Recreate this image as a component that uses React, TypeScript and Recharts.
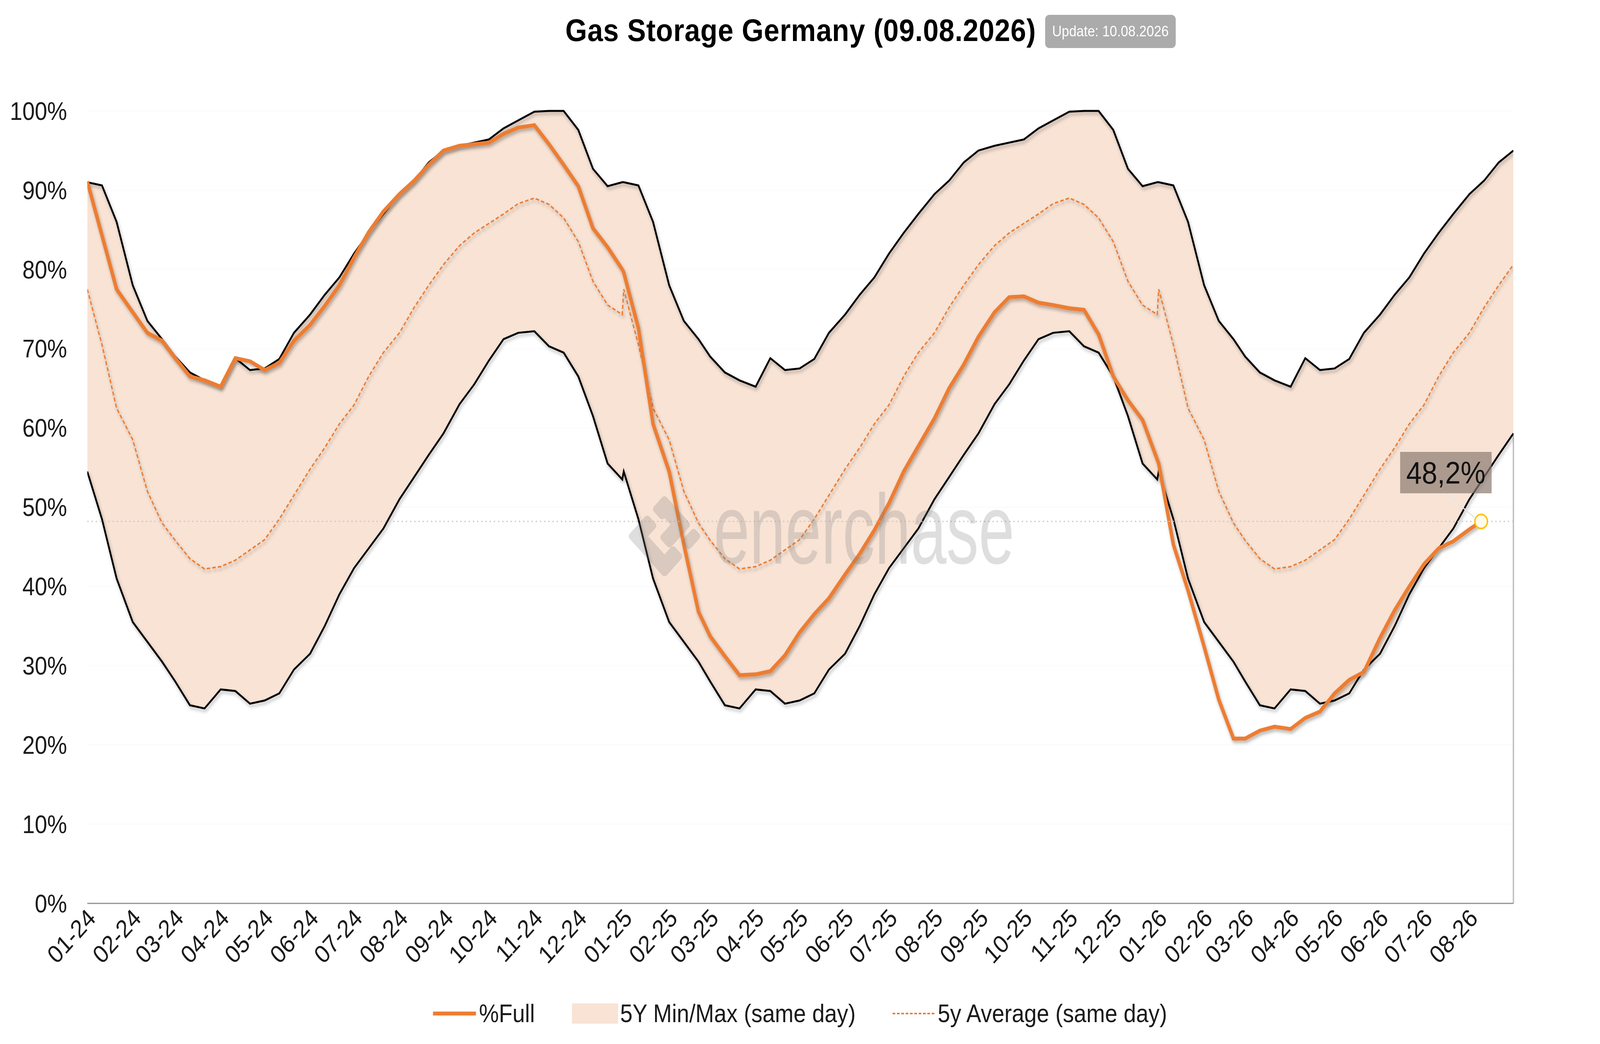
import React from "react";
import {
  ComposedChart,
  Area,
  Line,
  XAxis,
  YAxis,
  CartesianGrid,
  ReferenceLine,
  Legend,
} from "recharts";

const FONT = "'Liberation Sans', Arial, Helvetica, sans-serif";
const ORANGE = "#ED7D31";
const BAND_FILL = "#F8E3D5";
const W = 4582;
const H = 2673;

const chartTitle = "Gas Storage Germany (09.08.2026)";
const updateText = "Update: 10.08.2026";
const watermark = "enerchase";

// sampling days within each year (5y band repeats per calendar day)
const sampleDays = [
  "01-01", "01-11", "01-21", "02-01", "02-11", "02-21", "03-01", "03-11", "03-21",
  "04-01", "04-11", "04-21", "05-01", "05-11", "05-21", "06-01", "06-11", "06-21",
  "07-01", "07-11", "07-21", "08-01", "08-11", "08-21", "08-31", "09-11", "09-21",
  "10-01", "10-11", "10-21", "11-01", "11-11", "11-21", "12-01", "12-11", "12-21", "12-31",
];

const bandMax = [
  91, 90.6, 86, 78, 73.5, 71.2, 69, 67, 66, 65.2, 68.8, 67.3, 67.5, 68.7, 72, 74.3, 76.8, 79,
  82, 84.6, 87, 89.5, 91.2, 93.5, 95, 95.6, 96, 96.4, 97.8, 98.8, 99.9, 100, 100, 97.6, 92.7, 90.5, 91,
];
const bandMin = [
  54.5, 48.5, 41, 35.5, 33, 30.5, 28, 25, 24.6, 27, 26.8, 25.2, 25.6, 26.5, 29.5, 31.5, 35, 39,
  42.3, 44.8, 47.3, 51, 53.8, 56.6, 59.3, 63, 65.5, 68.5, 71.2, 72, 72.2, 70.3, 69.5, 66.5, 61.5, 55.5, 53.5,
];
const bandAvg = [
  77.5, 70.5, 62.5, 58.5, 52, 48, 45.8, 43.5, 42.2, 42.5, 43.3, 44.6, 45.9, 48.5, 51.5, 54.8, 57.5, 60.5,
  62.9, 66.5, 69.5, 72, 75.2, 78, 80.6, 83, 84.6, 85.8, 87, 88.3, 89, 88.2, 86.5, 83.5, 78.5, 75.5, 74.3,
];
const bandYears = [2024, 2025, 2026];

const full2024 = [
  91.1, 84.3, 77.5, 74.6, 72, 71, 68.8, 66.5, 66, 65.2, 68.8, 68.4, 67.3, 68.2, 71, 73, 75.4, 78,
  81.5, 84.7, 87.3, 89.5, 91.2, 93.2, 95, 95.6, 95.8, 96, 97.1, 97.9, 98.2, 95.8, 93.2, 90.5, 85.2, 82.8, 80,
];
const full2025 = [
  79.6, 72.6, 60.5, 54.5, 45.3, 36.8, 33.7, 31.2, 28.8, 28.9, 29.3, 31.3, 34.2, 36.5, 38.5, 41.5, 44.1, 47.1,
  50.5, 54.5, 57.7, 61.2, 65, 68, 71.5, 74.6, 76.5, 76.6, 75.8, 75.5, 75.1, 74.9, 71.8, 66.5, 63.5, 61, 56,
];
const full2026 = [
  55.5, 45.3, 39.5, 32.4, 25.7, 20.8, 20.8, 21.8, 22.3, 22, 23.4, 24.2, 26.5, 28.2, 29.2, 33.5, 37, 40,
  42.8, 44.8, 45.7, 47.2,
];
const latestDate = "2026-08-09";
const latestValue = 48.2;

const axisStart = "2024-01-01";
const axisEnd = "2026-08-31";
const monthLabels = [
  "01-24", "02-24", "03-24", "04-24", "05-24", "06-24", "07-24", "08-24", "09-24", "10-24", "11-24", "12-24",
  "01-25", "02-25", "03-25", "04-25", "05-25", "06-25", "07-25", "08-25", "09-25", "10-25", "11-25", "12-25",
  "01-26", "02-26", "03-26", "04-26", "05-26", "06-26", "07-26", "08-26",
];
const percentTicks = [0, 10, 20, 30, 40, 50, 60, 70, 80, 90, 100];

const ts = (s: string) => Date.parse(s + "T00:00:00Z");
const tStart = ts(axisStart);
const tEnd = ts(axisEnd);
const latestTs = ts(latestDate);

const monthTicks = monthLabels.map((l) => {
  const [mm, yy] = l.split("-");
  return Date.UTC(2000 + Number(yy), Number(mm) - 1, 1);
});
const labelByTick = new Map(monthTicks.map((t, i) => [t, monthLabels[i]]));

type Row = {
  t: number;
  full?: number;
  lo?: number;
  hi?: number;
  avg?: number;
  band?: [number, number];
};

const fullByYear: Record<number, number[]> = { 2024: full2024, 2025: full2025, 2026: full2026 };

const rows: Row[] = [];
for (const y of bandYears) {
  sampleDays.forEach((md, i) => {
    const t = ts(`${y}-${md}`);
    if (t > tEnd) return;
    rows.push({
      t,
      lo: bandMin[i],
      hi: bandMax[i],
      avg: bandAvg[i],
      band: [bandMin[i], bandMax[i]],
      full: fullByYear[y][i],
    });
  });
}
rows.push({ t: latestTs, full: latestValue });
rows.sort((a, b) => a.t - b.t);
const lastBandRow = rows.filter((r) => r.lo != null).slice(-1)[0];

function MonthTick(props: any) {
  const { x, y, payload } = props;
  const tx = x + 12;
  const ty = y + 26;
  return (
    <text
      x={tx}
      y={ty}
      transform={`rotate(-45 ${tx} ${ty})`}
      textAnchor="end"
      dominantBaseline="central"
      fontSize={64}
      fontFamily={FONT}
      fill="#1a1a1a"
    >
      {labelByTick.get(payload.value) ?? ""}
    </text>
  );
}

function LatestMarker(props: any) {
  const { cx, cy, payload, index } = props;
  if (!payload || payload.t !== latestTs || cx == null || cy == null) {
    return <g key={`d-${index}`} />;
  }
  const label = `${String(payload.full).replace(".", ",")}%`;
  const bw = 262;
  const bh = 106;
  const bx = cx - 101 - bw / 2;
  const by = cy - 125 - bh / 2;
  return (
    <g key={`d-${index}`}>
      <line x1={cx - 99} y1={cy - 72} x2={cx - 20} y2={cy - 10} stroke="#e6e6e6" strokeWidth={3} />
      <rect x={bx} y={by} width={bw} height={bh} fill="#8c7b70" fillOpacity={0.7} />
      <text
        x={bx + bw / 2}
        y={by + bh / 2}
        textAnchor="middle"
        dominantBaseline="central"
        fontSize={80}
        fontFamily={FONT}
        fill="#111"
      >
        {label}
      </text>
      <circle cx={cx} cy={cy} r={18} fill="#fffbea" stroke="#FFC000" strokeWidth={4} />
    </g>
  );
}

function LegendBody() {
  const item: React.CSSProperties = { display: "flex", alignItems: "center" };
  return (
    <div
      style={{
        display: "flex",
        justifyContent: "center",
        alignItems: "center",
        fontFamily: FONT,
        fontSize: 64,
        color: "#1a1a1a",
        gap: 106,
        width: "100%",
      }}
    >
      <div style={item}>
        <span style={{ display: "inline-block", width: 123, height: 10, background: ORANGE, marginRight: 9 }} />
        <span>%Full</span>
      </div>
      <div style={item}>
        <span style={{ display: "inline-block", width: 132, height: 52, background: BAND_FILL, marginRight: 6 }} />
        <span>5Y Min/Max (same day)</span>
      </div>
      <div style={item}>
        <span style={{ display: "inline-block", width: 120, borderTop: `4px dashed ${ORANGE}`, marginRight: 9 }} />
        <span>5y Average (same day)</span>
      </div>
    </div>
  );
}

// watermark drawn above the plot, as in the source image
function Watermark() {
  const r = 9;
  return (
    <svg
      width={W}
      height={H}
      style={{ position: "absolute", left: 0, top: 0, pointerEvents: "none" }}
    >
      <g opacity={0.25} fill="#7f7f7f">
        <g transform="translate(1903 1373) rotate(45)">
          <rect x={-75} y={33} width={150} height={42} rx={r} />
          <rect x={-75} y={-5} width={42} height={80} rx={r} />
          <rect x={33} y={-2} width={42} height={77} rx={r} />
          <rect x={-75} y={-75} width={108} height={42} rx={r} />
          <rect x={-75} y={-75} width={42} height={52} rx={r} />
          <rect x={-9} y={-75} width={42} height={88} rx={r} />
          <rect x={43} y={-75} width={32} height={52} rx={r} />
        </g>
        <text
          x={2044}
          y={1443}
          fontSize={255}
          fontFamily={FONT}
          textLength={861}
          lengthAdjust="spacingAndGlyphs"
        >
          {watermark}
        </text>
      </g>
    </svg>
  );
}

export default function App() {
  const yTick = { fontSize: 64, fill: "#1a1a1a", fontFamily: FONT };
  // the page may be narrower than the design canvas; fit the canvas to it
  const vw = window.innerWidth || W;
  const vh = window.innerHeight || H;
  const sx = vw / W;
  const sy = vh / H;
  return (
    <div style={{ position: "fixed", left: 0, top: 0, width: vw, height: vh, overflow: "hidden", background: "#fff" }}>
      <div
        style={{
          position: "absolute",
          left: 0,
          top: 0,
          width: W,
          height: H,
          background: "#fff",
          transform: `scale(${sx}, ${sy})`,
          transformOrigin: "0 0",
        }}
      >
        <div
          style={{
            position: "absolute",
            left: 0,
            width: 4586,
            top: 30,
            textAlign: "center",
            fontFamily: FONT,
            fontWeight: 700,
            fontSize: 80,
            letterSpacing: 1,
            lineHeight: "96px",
            color: "#000",
          }}
        >
          {chartTitle}
        </div>
        <div
          style={{
            position: "absolute",
            left: 2993,
            top: 38,
            width: 374,
            height: 85,
            borderRadius: 12,
            background: "#ababab",
            color: "#fff",
            fontFamily: FONT,
            fontSize: 38,
            lineHeight: "85px",
            textAlign: "center",
          }}
        >
          {updateText}
        </div>
        <ComposedChart
          width={W}
          height={H}
          data={rows}
          margin={{ top: 284, right: 0, bottom: 160, left: 0 }}
        >
          <defs>
            <filter id="lineShadow" x="-3%" y="-3%" width="106%" height="112%">
              <feDropShadow dx="3" dy="6" stdDeviation="4" floodColor="#000" floodOpacity="0.3" />
            </filter>
          </defs>
          <CartesianGrid vertical={false} stroke="#fafafa" strokeWidth={2} />
          <XAxis
            dataKey="t"
            type="number"
            domain={[tStart, tEnd]}
            ticks={monthTicks}
            interval={0}
            allowDataOverflow
            height={200}
            tickLine={false}
            tickSize={0}
            tickMargin={0}
            axisLine={{ stroke: "#8f8f8f", strokeWidth: 3 }}
            tick={(p: any) => <MonthTick {...p} />}
          />
          <YAxis
            domain={[0, 100]}
            ticks={percentTicks}
            width={250}
            axisLine={false}
            tickLine={false}
            tickSize={0}
            tickMargin={58}
            tick={yTick}
            tickFormatter={(v: number) => `${v}%`}
          />
          <YAxis
            yAxisId="right"
            orientation="right"
            domain={[0, 100]}
            ticks={percentTicks}
            width={248}
            axisLine={false}
            tickLine={false}
            tickSize={0}
            tickMargin={64}
            tick={{ ...yTick, textAnchor: "start" }}
            tickFormatter={(v: number) => `${v}%`}
          />
          <Area
            type="linear"
            dataKey="band"
            fill={BAND_FILL}
            fillOpacity={1}
            stroke="none"
            connectNulls
            activeDot={false}
            isAnimationActive={false}
          />
          <ReferenceLine
            segment={[
              { x: tEnd, y: 0 },
              { x: tEnd, y: lastBandRow.lo },
            ]}
            stroke="#bfbfbf"
            strokeWidth={4}
          />
          <Line
            type="linear"
            dataKey="hi"
            stroke="#000"
            strokeWidth={5}
            dot={false}
            activeDot={false}
            connectNulls
            filter="url(#lineShadow)"
            isAnimationActive={false}
          />
          <Line
            type="linear"
            dataKey="lo"
            stroke="#000"
            strokeWidth={5}
            dot={false}
            activeDot={false}
            connectNulls
            filter="url(#lineShadow)"
            isAnimationActive={false}
          />
          <Line
            type="linear"
            dataKey="avg"
            stroke={ORANGE}
            strokeWidth={4}
            strokeDasharray="10 6"
            dot={false}
            activeDot={false}
            connectNulls
            filter="url(#lineShadow)"
            isAnimationActive={false}
          />
          <Line
            type="linear"
            dataKey="full"
            stroke={ORANGE}
            strokeWidth={10}
            dot={(p: any) => <LatestMarker {...p} />}
            activeDot={false}
            connectNulls
            filter="url(#lineShadow)"
            isAnimationActive={false}
          />
          <ReferenceLine
            y={latestValue}
            stroke="#c8c8c8"
            strokeWidth={3}
            strokeDasharray="4 8"
          />
          <Legend
            layout="horizontal"
            verticalAlign="middle"
            align="center"
            wrapperStyle={{ top: 2558, left: 0, width: W, height: 80 }}
            content={() => <LegendBody />}
          />
        </ComposedChart>
        <Watermark />
      </div>
    </div>
  );
}
